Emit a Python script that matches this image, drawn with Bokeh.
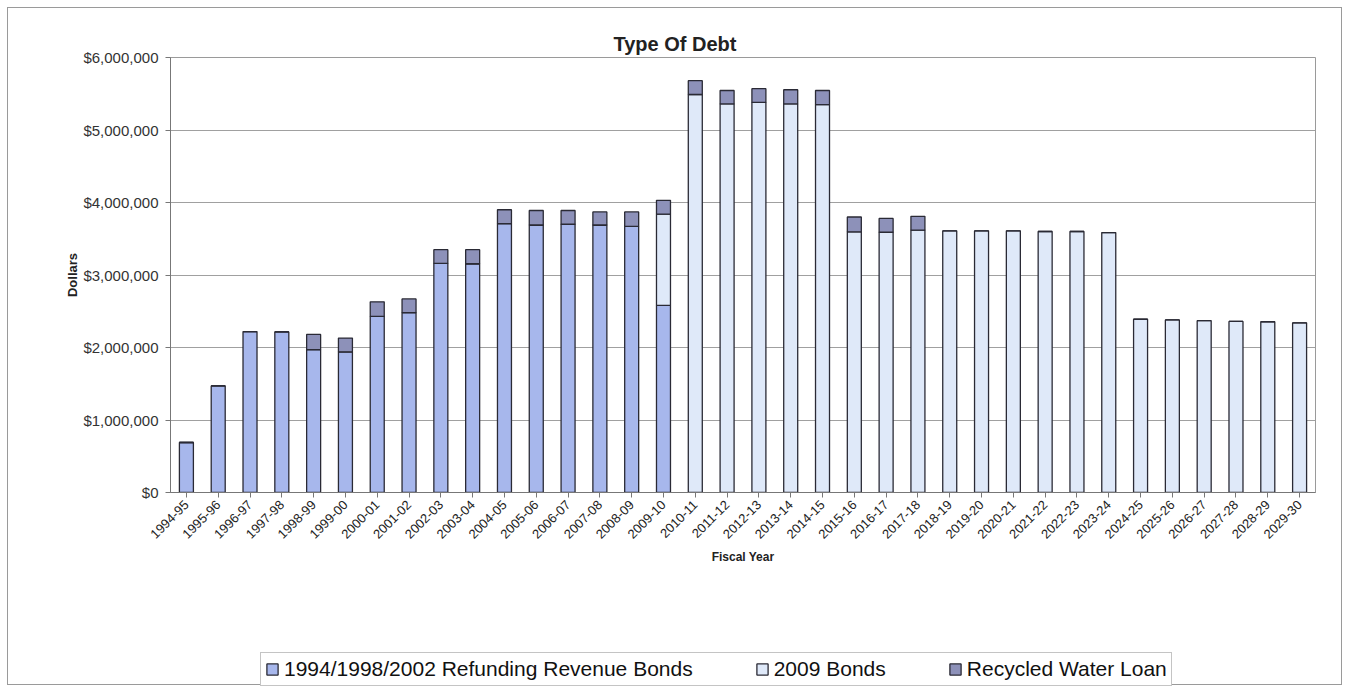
import math
from bokeh.plotting import figure
from bokeh.layouts import column
from bokeh.models import (FactorRange, Range1d, NumeralTickFormatter, Legend, LegendItem,
                          FixedTicker, ColumnDataSource)
from bokeh.embed import file_html
from bokeh.resources import INLINE

fiscal_years = ["1994-95", "1995-96", "1996-97", "1997-98", "1998-99", "1999-00",
                "2000-01", "2001-02", "2002-03", "2003-04", "2004-05", "2005-06",
                "2006-07", "2007-08", "2008-09", "2009-10", "2010-11", "2011-12",
                "2012-13", "2013-14", "2014-15", "2015-16", "2016-17", "2017-18",
                "2018-19", "2019-20", "2020-21", "2021-22", "2022-23", "2023-24",
                "2024-25", "2025-26", "2026-27", "2027-28", "2028-29", "2029-30"]

refunding_bonds = [690000, 1470000, 2220000, 2215000, 1970000, 1940000,
                   2430000, 2480000, 3160000, 3155000, 3710000, 3690000,
                   3700000, 3690000, 3670000, 2580000, 0, 0,
                   0, 0, 0, 0, 0, 0,
                   0, 0, 0, 0, 0, 0,
                   0, 0, 0, 0, 0, 0]

bonds_2009 = [0, 0, 0, 0, 0, 0,
              0, 0, 0, 0, 0, 0,
              0, 0, 0, 1260000, 5490000, 5360000,
              5380000, 5360000, 5350000, 3595000, 3590000, 3620000,
              3610000, 3610000, 3610000, 3600000, 3600000, 3585000,
              2390000, 2380000, 2370000, 2360000, 2355000, 2340000]

recycled_water_loan = [0, 0, 0, 0, 210000, 190000,
                       200000, 190000, 190000, 195000, 190000, 200000,
                       190000, 180000, 200000, 190000, 190000, 185000,
                       190000, 195000, 195000, 205000, 190000, 190000,
                       0, 0, 0, 0, 0, 0,
                       0, 0, 0, 0, 0, 0]

series_names = ["1994/1998/2002 Refunding Revenue Bonds", "2009 Bonds", "Recycled Water Loan"]
series_colors = ["#a7b7ec", "#dfe9f9", "#8d91b9"]
y_ticks = [0, 1000000, 2000000, 3000000, 4000000, 5000000, 6000000]

source = ColumnDataSource(dict(year=fiscal_years, refunding=refunding_bonds,
                               bonds2009=bonds_2009, recycled=recycled_water_loan))

FONT = "Liberation Sans"
OUTLINE = "#2a2a35"

# ---------------- main chart ----------------
p = figure(width=1349, height=640, x_range=FactorRange(*fiscal_years),
           y_range=Range1d(0, 6000000), output_backend="svg", toolbar_location=None,
           min_border_left=170, min_border_right=34, min_border_top=57,
           min_border_bottom=148, title="Type Of Debt")
p.background_fill_color = "white"
p.border_fill_color = None
p.outline_line_color = "#9a9a9a"
p.outline_line_width = 1

p.title.align = "left"
p.title.offset = 443
p.title.standoff = 6
p.title.text_font = FONT
p.title.text_font_size = "20px"
p.title.text_font_style = "bold"
p.title.text_color = "#222222"

renderers = p.vbar_stack(["refunding", "bonds2009", "recycled"], x="year", width=0.44,
                         source=source, fill_color=series_colors,
                         line_color=OUTLINE, line_width=1.3)

p.xgrid.grid_line_color = None
p.ygrid.grid_line_color = "#a0a0a0"
p.ygrid.grid_line_width = 1.2

p.yaxis.ticker = FixedTicker(ticks=y_ticks)
p.yaxis.formatter = NumeralTickFormatter(format="$0,0")
p.yaxis.major_label_text_font = FONT
p.yaxis.major_label_text_font_size = "15px"
p.yaxis.major_label_text_color = "#333333"
p.yaxis.minor_tick_line_color = None
p.yaxis.major_tick_out = 5
p.yaxis.major_tick_in = 0
p.yaxis.axis_line_color = "#777777"
p.yaxis.major_tick_line_color = "#777777"
p.yaxis.axis_label = "Dollars"
p.yaxis.axis_label_text_font = FONT
p.yaxis.axis_label_text_font_size = "13px"
p.yaxis.axis_label_text_font_style = "bold"
p.yaxis.axis_label_text_color = "#222222"
p.yaxis.axis_label_standoff = 0
p.yaxis.major_label_standoff = 7

p.xaxis.major_label_orientation = math.pi / 4
p.xaxis.major_label_text_font = FONT
p.xaxis.major_label_text_font_size = "13px"
p.xaxis.major_label_text_color = "#222222"
p.xaxis.axis_line_color = "#777777"
p.xaxis.major_tick_line_color = "#777777"
p.xaxis.major_tick_out = 5
p.xaxis.major_tick_in = 0
p.xaxis.axis_label = "Fiscal Year"
p.xaxis.axis_label_text_font = FONT
p.xaxis.axis_label_text_font_size = "12px"
p.xaxis.axis_label_text_font_style = "bold"
p.xaxis.axis_label_text_color = "#222222"
p.xaxis.axis_label_standoff = 4

# ---------------- legend strip ----------------
q = figure(width=1349, height=52, x_range=Range1d(0, 1349), y_range=Range1d(0, 52),
           output_backend="svg", toolbar_location=None,
           x_axis_location=None, y_axis_location=None, min_border=0)
q.background_fill_color = None
q.border_fill_color = None
q.outline_line_color = None
q.xgrid.grid_line_color = None
q.ygrid.grid_line_color = None

# legend-only swatches: tiny bars hidden behind the legend's white box
legend_renderers = [q.vbar(x=[600], top=[28], bottom=[24], width=1, fill_color=c,
                           line_color=OUTLINE, line_width=1.3)
                    for c in series_colors]

legend = Legend(items=[LegendItem(label=series_names[i], renderers=[legend_renderers[i]]) for i in range(3)],
                orientation="horizontal", location=(90, 6))
legend.label_text_font = FONT
legend.label_text_font_size = "21px"
legend.label_text_color = "#111111"
legend.label_height = 14
legend.glyph_width = 14
legend.glyph_height = 14
legend.label_standoff = 5
legend.spacing = 62
legend.padding = 4
legend.margin = 0
legend.border_line_color = "#8a8a8a"
legend.border_line_width = 1.2
legend.background_fill_color = "white"
legend.background_fill_alpha = 1
q.add_layout(legend, "center")

layout = column(p, q, spacing=0,
                styles={"outline": "1.5px solid #9a9a9a", "outline-offset": "-8px",
                        "background-color": "white"})

open("out.html", "w").write(file_html(layout, INLINE))
